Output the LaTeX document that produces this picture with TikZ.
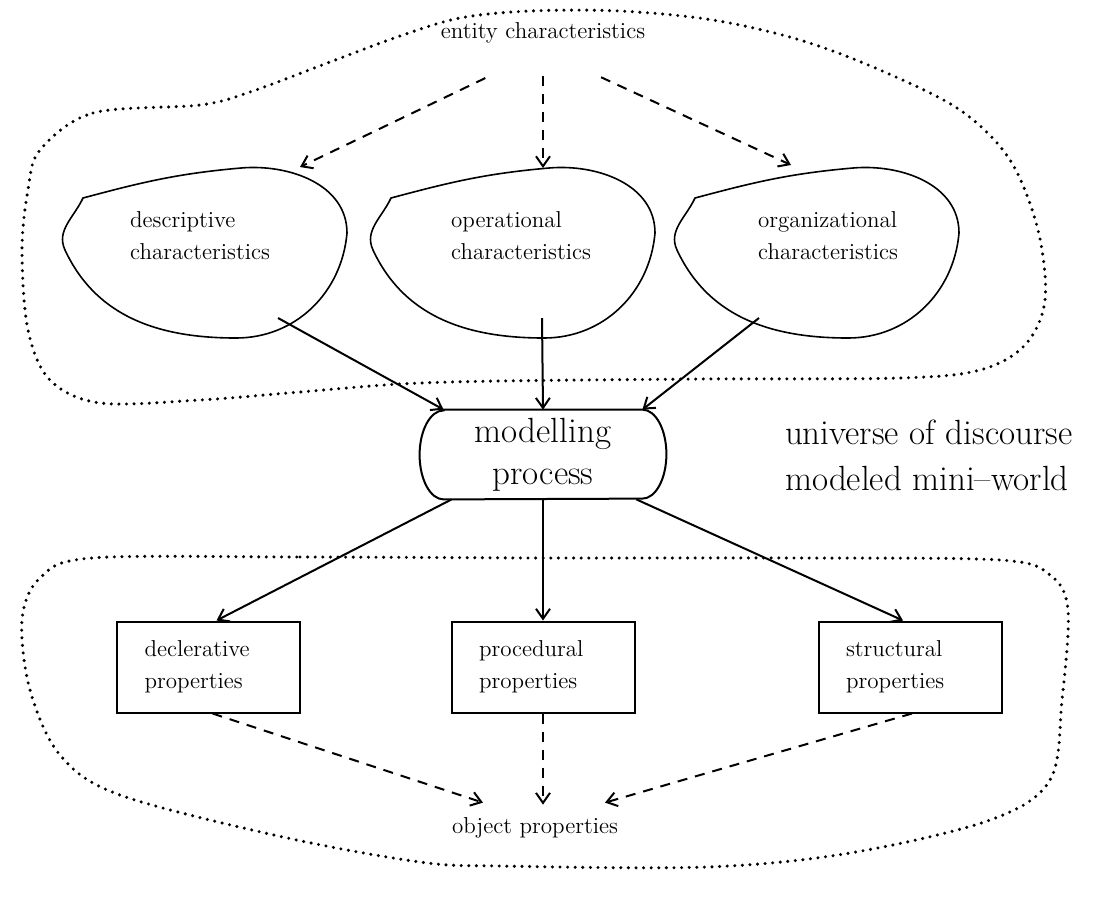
\documentclass[tikz,border=0pt]{standalone}
\usetikzlibrary{arrows.meta}
\tikzset{
  smalltxt/.style={font=\fontsize{11.5}{16}\selectfont},
  bigtxt/.style={font=\fontsize{17.5}{21}\selectfont},
  regionline/.style={line width=1.7pt,dash pattern=on 0pt off 3.8pt,line cap=round},
  flow/.style={line width=1pt,-{Straight Barb[length=5pt,width=7pt]}},
  hint/.style={flow,dash pattern=on 5pt off 4pt},
  propbox/.style={smalltxt,draw,line width=1pt,minimum width=91.5pt,minimum height=45.5pt,text width=64pt,align=left}
}
\begin{document}
\begin{tikzpicture}[x=0.5pt,y=-0.5pt]
    \useasboundingbox (0,0) rectangle (1108,923);
    \draw[regionline] plot[smooth cycle,tension=0.55] coordinates {
      (40,150) (93,113) (200,105) (250,92) (330,62) (400,36) (460,18) (530,11) (620,11)
      (713,20) (800,40) (880,70) (960,110) (1010,160) (1038,230) (1045,300)
      (1025,345) (980,370) (900,378) (700,379) (500,381) (400,384) (300,392)
      (200,400) (100,403) (50,380) (28,330) (22,250) (28,190)};
    \draw[regionline] plot[smooth cycle,tension=0.55] coordinates {
      (92,558) (300,557) (550,558) (800,558) (1000,560) (1050,575) (1068,610)
      (1062,700) (1050,780) (990,820) (850,853) (707,867) (500,866) (420,862)
      (283,837) (120,795) (60,755) (30,690) (22,620) (40,578)};
    \node[smalltxt] (ent) at (543,33) {entity characteristics};
    \foreach \x/\n/\tx/\ix/\iy/\ox/\t in {%
      206/desc/200/94/167/72/{descriptive\\characteristics},
      514/oper/521/29/168/28/{operational\\characteristics},
      818/orga/828/-27/165/-59/{organizational\\characteristics}}{%
      \draw[line width=0.8pt] (\x-123,198) to[out=15,in=185] (\x+35,168)
        to[out=5,in=90] (\x+141,233) to[out=-95,in=0] (\x+30,338)
        to[out=180,in=-65] (\x-141,250) to[out=115,in=-115] (\x-123,198) -- cycle;
      \node[smalltxt,align=left] (\n) at (\tx,236) {\t};
      \coordinate (\n-in) at (\x+\ix,\iy);
      \coordinate (\n-out) at (\x+\ox,318);
    }
    \foreach \n/\s in {desc/32pt,oper/13pt,orga/32pt}{%
      \draw[hint,shorten <=\s] (ent.south) -- (\n-in);
    }
    \node[bigtxt,minimum width=123pt,minimum height=44.5pt,inner sep=0pt,align=center] (mod) at (543,454.5) {modelling\\process};
    \draw[line width=1pt] ([xshift=12pt]mod.north west) -- ([xshift=-12pt]mod.north east)
      arc[start angle=90,end angle=-90,x radius=12pt,y radius=22.25pt]
      -- ([xshift=12pt]mod.south west)
      arc[start angle=270,end angle=90,x radius=12pt,y radius=22.25pt] -- cycle;
    \draw[flow] (desc-out) -- ([xshift=12pt]mod.north west);
    \draw[flow] (oper-out) -- (mod.north);
    \draw[flow] (orga-out) -- ([xshift=-12pt]mod.north east);
    \node[bigtxt,anchor=west] (uod) at (778,432) {universe of discourse};
    \node[bigtxt,anchor=west] (mmw) at (778,478) {modeled mini--world};
    \foreach \x/\n/\t in {208.5/decl/{declerative\\properties},543/proc/{procedural\\properties},910/stru/{structural\\properties}}{%
      \node[propbox] (\n) at (\x,667) {\t};
    }
    \draw[flow] ([xshift=16pt]mod.south west) -- ([xshift=4pt]decl.north);
    \draw[flow] (mod.south) -- (proc.north);
    \draw[flow] ([xshift=-15pt]mod.south east) -- ([xshift=-3.5pt]stru.north);
    \node[smalltxt] (obj) at (535,828) {object properties};
    \draw[hint] ([xshift=2pt]decl.south) -- ([shift={(-26pt,4pt)}]obj.north);
    \draw[hint] (proc.south) -- ([shift={(4pt,3pt)}]obj.north);
    \draw[hint] ([xshift=1pt]stru.south) -- ([shift={(35pt,4pt)}]obj.north);
\end{tikzpicture}
\end{document}
